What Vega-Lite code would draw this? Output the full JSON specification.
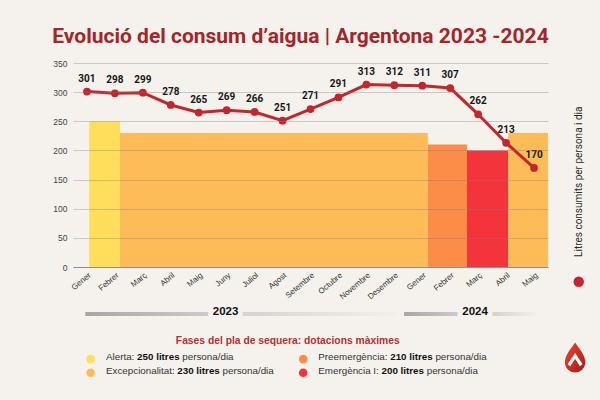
{
  "$schema": "https://vega.github.io/schema/vega-lite/v6.json",
  "width": 475,
  "height": 204,
  "autosize": {"type": "none"},
  "padding": {"left": 73, "top": 63, "right": 52, "bottom": 133},
  "background": "#f5f2ed",
  "config": {"view": {"stroke": null}, "font": "Liberation Sans"},
  "resolve": {"axis": {"x": "independent", "y": "independent"}},
  "datasets": {
    "consum": [
      {"mes": "Gener", "any": 2023, "idx": 0, "litres": 301},
      {"mes": "Febrer", "any": 2023, "idx": 1, "litres": 298},
      {"mes": "Març", "any": 2023, "idx": 2, "litres": 299},
      {"mes": "Abril", "any": 2023, "idx": 3, "litres": 278},
      {"mes": "Maig", "any": 2023, "idx": 4, "litres": 265},
      {"mes": "Juny", "any": 2023, "idx": 5, "litres": 269},
      {"mes": "Juliol", "any": 2023, "idx": 6, "litres": 266},
      {"mes": "Agost", "any": 2023, "idx": 7, "litres": 251},
      {"mes": "Setembre", "any": 2023, "idx": 8, "litres": 271},
      {"mes": "Octubre", "any": 2023, "idx": 9, "litres": 291},
      {"mes": "Novembre", "any": 2023, "idx": 10, "litres": 313},
      {"mes": "Desembre", "any": 2023, "idx": 11, "litres": 312},
      {"mes": "Gener", "any": 2024, "idx": 12, "litres": 311},
      {"mes": "Febrer", "any": 2024, "idx": 13, "litres": 307},
      {"mes": "Març", "any": 2024, "idx": 14, "litres": 262},
      {"mes": "Abril", "any": 2024, "idx": 15, "litres": 213},
      {"mes": "Maig", "any": 2024, "idx": 16, "litres": 170}
    ],
    "fases": [
      {"fase": "Alerta", "dotacio": 250, "inici": 0.08, "fi": 1.18},
      {"fase": "Excepcionalitat", "dotacio": 230, "inici": 1.18, "fi": 12.2},
      {"fase": "Preemergència", "dotacio": 210, "inici": 12.2, "fi": 13.6},
      {"fase": "Emergència I", "dotacio": 200, "inici": 13.6, "fi": 15.08},
      {"fase": "Excepcionalitat", "dotacio": 230, "inici": 15.08, "fi": 16.5}
    ],
    "anys": [
      {"any": "2023", "tram": "esquerra", "inici": -0.06, "fi": 4.34},
      {"any": "2023", "tram": "dreta", "inici": 5.57, "fi": 11.04},
      {"any": "2024", "tram": "esquerra", "inici": 11.35, "fi": 13.26},
      {"any": "2024", "tram": "dreta", "inici": 14.51, "fi": 16.09}
    ],
    "anys_etiquetes": [
      {"any": "2023", "centre": 4.96},
      {"any": "2024", "centre": 13.89}
    ]
  },
  "layer": [
    {
      "data": {"name": "fases"},
      "mark": {"type": "rect"},
      "encoding": {
        "x": {"field": "inici", "type": "quantitative", "scale": {"domain": [-0.5, 16.5], "nice": false, "zero": false}, "axis": null},
        "x2": {"field": "fi"},
        "y": {"field": "dotacio", "type": "quantitative", "scale": {"domain": [0, 350], "nice": false, "zero": false}, "axis": null},
        "y2": {"datum": 0},
        "color": {
          "field": "fase",
          "type": "nominal",
          "scale": {"domain": ["Alerta", "Excepcionalitat", "Preemergència", "Emergència I"], "range": ["#fede5a", "#fdbc58", "#fb8d48", "#f3343a"]},
          "legend": null
        }
      }
    },
    {
      "data": {"name": "consum"},
      "mark": {"type": "line", "color": "#c1272d", "strokeWidth": 3, "point": {"filled": true, "size": 60, "color": "#c1272d"}},
      "encoding": {
        "x": {
          "field": "idx",
          "type": "quantitative",
          "axis": {
            "title": null,
            "values": [0, 1, 2, 3, 4, 5, 6, 7, 8, 9, 10, 11, 12, 13, 14, 15, 16],
            "labelExpr": "['Gener','Febrer','Març','Abril','Maig','Juny','Juliol','Agost','Setembre','Octubre','Novembre','Desembre','Gener','Febrer','Març','Abril','Maig'][datum.value]",
            "labelAngle": -40,
            "labelFontSize": 8,
            "labelColor": "#333333",
            "labelFont": "Liberation Sans",
            "labelPadding": 4,
            "labelOverlap": false,
            "labelFlush": false,
            "ticks": false,
            "grid": false,
            "domain": true,
            "domainColor": "#9a9a9a",
            "domainWidth": 1
          }
        },
        "y": {
          "field": "litres",
          "type": "quantitative",
          "axis": {
            "title": null,
            "values": [0, 50, 100, 150, 200, 250, 300, 350],
            "ticks": false,
            "domain": false,
            "grid": true,
            "labelOverlap": false,
            "labelFontSize": 8.5,
            "labelColor": "#444444",
            "labelFont": "Liberation Sans",
            "labelPadding": 6,
            "gridColor": "#7a7a7a",
            "gridOpacity": 0.35,
            "gridWidth": 1,
            "zindex": 1
          }
        }
      }
    },
    {
      "data": {"name": "consum"},
      "mark": {"type": "text", "dy": -13, "fontSize": 10, "fontWeight": "bold", "font": "Roboto", "color": "#161616"},
      "encoding": {
        "x": {"field": "idx", "type": "quantitative", "axis": null},
        "y": {"field": "litres", "type": "quantitative", "axis": null},
        "text": {"field": "litres", "type": "quantitative"}
      }
    },
    {
      "data": {"name": "anys"},
      "transform": [{"filter": "datum.tram == 'esquerra'"}],
      "mark": {"type": "rect", "color": {"gradient": "linear", "x1": 0, "y1": 0, "x2": 1, "y2": 0, "stops": [{"offset": 0, "color": "#a6a6a6"}, {"offset": 1, "color": "#cbcbcb"}]}},
      "encoding": {
        "x": {"field": "inici", "type": "quantitative", "axis": null},
        "x2": {"field": "fi"},
        "y": {"datum": -77.2, "type": "quantitative", "axis": null},
        "y2": {"datum": -84}
      }
    },
    {
      "data": {"name": "anys"},
      "transform": [{"filter": "datum.tram == 'dreta'"}],
      "mark": {"type": "rect", "color": {"gradient": "linear", "x1": 0, "y1": 0, "x2": 1, "y2": 0, "stops": [{"offset": 0, "color": "#d3d3d3"}, {"offset": 1, "color": "#f3f0eb"}]}},
      "encoding": {
        "x": {"field": "inici", "type": "quantitative", "axis": null},
        "x2": {"field": "fi"},
        "y": {"datum": -77.2, "type": "quantitative", "axis": null},
        "y2": {"datum": -84}
      }
    },
    {
      "data": {"name": "anys_etiquetes"},
      "mark": {"type": "text", "fontSize": 11.5, "fontWeight": "bold", "font": "Liberation Sans", "color": "#111111", "baseline": "middle", "align": "center"},
      "encoding": {
        "x": {"field": "centre", "type": "quantitative", "axis": null},
        "y": {"datum": -77.7, "type": "quantitative", "axis": null},
        "text": {"field": "any", "type": "nominal"}
      }
    },
    {
      "data": {"values": [{}]},
      "layer": [
        {
          "mark": {"type": "text", "text": "Evolució del consum d’aigua | Argentona 2023 -2024", "fontSize": 21, "fontWeight": "bold", "font": "Roboto", "color": "#a3262a", "align": "center", "baseline": "alphabetic"},
          "encoding": {"x": {"datum": 7.642, "type": "quantitative", "axis": null}, "y": {"datum": 384.8, "type": "quantitative", "axis": null}}
        },
        {
          "mark": {"type": "text", "text": "Fases del pla de sequera: dotacions màximes", "fontSize": 10.3, "fontWeight": "bold", "font": "Liberation Sans", "color": "#b5312f", "align": "center", "baseline": "middle"},
          "encoding": {"x": {"datum": 7.185, "type": "quantitative", "axis": null}, "y": {"datum": -127, "type": "quantitative", "axis": null}}
        },
        {
          "mark": {"type": "point", "filled": true, "size": 75, "opacity": 1, "color": "#fede5a"},
          "encoding": {"x": {"datum": 0.13, "type": "quantitative", "axis": null}, "y": {"datum": -158, "type": "quantitative", "axis": null}}
        },
        {
          "mark": {"type": "point", "filled": true, "size": 75, "opacity": 1, "color": "#fdbc58"},
          "encoding": {"x": {"datum": 0.13, "type": "quantitative", "axis": null}, "y": {"datum": -181.5, "type": "quantitative", "axis": null}}
        },
        {
          "mark": {"type": "point", "filled": true, "size": 75, "opacity": 1, "color": "#fb8d48"},
          "encoding": {"x": {"datum": 7.74, "type": "quantitative", "axis": null}, "y": {"datum": -158, "type": "quantitative", "axis": null}}
        },
        {
          "mark": {"type": "point", "filled": true, "size": 75, "opacity": 1, "color": "#f3343a"},
          "encoding": {"x": {"datum": 7.74, "type": "quantitative", "axis": null}, "y": {"datum": -181.5, "type": "quantitative", "axis": null}}
        },
        {
          "mark": {"type": "text", "text": "Alerta:", "fontSize": 9.8, "font": "Liberation Sans", "color": "#333333", "align": "left", "baseline": "middle"},
          "encoding": {"x": {"datum": 0.681, "type": "quantitative", "axis": null}, "y": {"datum": -155, "type": "quantitative", "axis": null}}
        },
        {
          "mark": {"type": "text", "text": "250 litres", "fontSize": 9.8, "fontWeight": "bold", "font": "Liberation Sans", "color": "#111111", "align": "left", "baseline": "middle"},
          "encoding": {"x": {"datum": 1.794, "type": "quantitative", "axis": null}, "y": {"datum": -155, "type": "quantitative", "axis": null}}
        },
        {
          "mark": {"type": "text", "text": "persona/dia", "fontSize": 9.8, "font": "Liberation Sans", "color": "#333333", "align": "left", "baseline": "middle"},
          "encoding": {"x": {"datum": 3.412, "type": "quantitative", "axis": null}, "y": {"datum": -155, "type": "quantitative", "axis": null}}
        },
        {
          "mark": {"type": "text", "text": "Excepcionalitat:", "fontSize": 9.8, "font": "Liberation Sans", "color": "#333333", "align": "left", "baseline": "middle"},
          "encoding": {"x": {"datum": 0.681, "type": "quantitative", "axis": null}, "y": {"datum": -179, "type": "quantitative", "axis": null}}
        },
        {
          "mark": {"type": "text", "text": "230 litres", "fontSize": 9.8, "fontWeight": "bold", "font": "Liberation Sans", "color": "#111111", "align": "left", "baseline": "middle"},
          "encoding": {"x": {"datum": 3.233, "type": "quantitative", "axis": null}, "y": {"datum": -179, "type": "quantitative", "axis": null}}
        },
        {
          "mark": {"type": "text", "text": "persona/dia", "fontSize": 9.8, "font": "Liberation Sans", "color": "#333333", "align": "left", "baseline": "middle"},
          "encoding": {"x": {"datum": 4.851, "type": "quantitative", "axis": null}, "y": {"datum": -179, "type": "quantitative", "axis": null}}
        },
        {
          "mark": {"type": "text", "text": "Preemergència:", "fontSize": 9.8, "font": "Liberation Sans", "color": "#333333", "align": "left", "baseline": "middle"},
          "encoding": {"x": {"datum": 8.28, "type": "quantitative", "axis": null}, "y": {"datum": -155, "type": "quantitative", "axis": null}}
        },
        {
          "mark": {"type": "text", "text": "210 litres", "fontSize": 9.8, "fontWeight": "bold", "font": "Liberation Sans", "color": "#111111", "align": "left", "baseline": "middle"},
          "encoding": {"x": {"datum": 10.853, "type": "quantitative", "axis": null}, "y": {"datum": -155, "type": "quantitative", "axis": null}}
        },
        {
          "mark": {"type": "text", "text": "persona/dia", "fontSize": 9.8, "font": "Liberation Sans", "color": "#333333", "align": "left", "baseline": "middle"},
          "encoding": {"x": {"datum": 12.471, "type": "quantitative", "axis": null}, "y": {"datum": -155, "type": "quantitative", "axis": null}}
        },
        {
          "mark": {"type": "text", "text": "Emergència I:", "fontSize": 9.8, "font": "Liberation Sans", "color": "#333333", "align": "left", "baseline": "middle"},
          "encoding": {"x": {"datum": 8.28, "type": "quantitative", "axis": null}, "y": {"datum": -179, "type": "quantitative", "axis": null}}
        },
        {
          "mark": {"type": "text", "text": "200 litres", "fontSize": 9.8, "fontWeight": "bold", "font": "Liberation Sans", "color": "#111111", "align": "left", "baseline": "middle"},
          "encoding": {"x": {"datum": 10.541, "type": "quantitative", "axis": null}, "y": {"datum": -179, "type": "quantitative", "axis": null}}
        },
        {
          "mark": {"type": "text", "text": "persona/dia", "fontSize": 9.8, "font": "Liberation Sans", "color": "#333333", "align": "left", "baseline": "middle"},
          "encoding": {"x": {"datum": 12.159, "type": "quantitative", "axis": null}, "y": {"datum": -179, "type": "quantitative", "axis": null}}
        },
        {
          "mark": {"type": "text", "text": "Litres consumits per persona i dia", "angle": 270, "fontSize": 10, "font": "Roboto", "color": "#2a2a2a", "align": "center", "baseline": "middle"},
          "encoding": {"x": {"datum": 17.62, "type": "quantitative", "axis": null}, "y": {"datum": 146.3, "type": "quantitative", "axis": null}}
        },
        {
          "mark": {"type": "point", "filled": true, "size": 110, "opacity": 1, "color": "#c8242b"},
          "encoding": {"x": {"datum": 17.6, "type": "quantitative", "axis": null}, "y": {"datum": -25.2, "type": "quantitative", "axis": null}}
        },
        {
          "mark": {
            "type": "point",
            "filled": true,
            "size": 900,
            "opacity": 1,
            "strokeWidth": 0,
            "shape": "M0,-1 C0.3,-0.55 0.68,-0.15 0.68,0.32 A0.68,0.68 0 0 1 0,1 A0.68,0.68 0 0 1 -0.68,0.32 C-0.68,-0.15 -0.3,-0.55 0,-1 Z",
            "fill": {"gradient": "linear", "x1": 0, "y1": 0, "x2": 1, "y2": 1, "stops": [{"offset": 0, "color": "#ee4a2e"}, {"offset": 1, "color": "#a8161b"}]}
          },
          "encoding": {"x": {"datum": 17.47, "type": "quantitative", "axis": null}, "y": {"datum": -155.3, "type": "quantitative", "axis": null}}
        },
        {
          "mark": {
            "type": "point",
            "filled": true,
            "size": 900,
            "opacity": 1,
            "strokeWidth": 0,
            "color": "#ffffff",
            "shape": "M-0.5,0.45 L0,-0.3 L0.5,0.45 L0.32,0.58 L0,0.08 L-0.32,0.58 Z"
          },
          "encoding": {"x": {"datum": 17.47, "type": "quantitative", "axis": null}, "y": {"datum": -155.3, "type": "quantitative", "axis": null}}
        }
      ]
    }
  ]
}
